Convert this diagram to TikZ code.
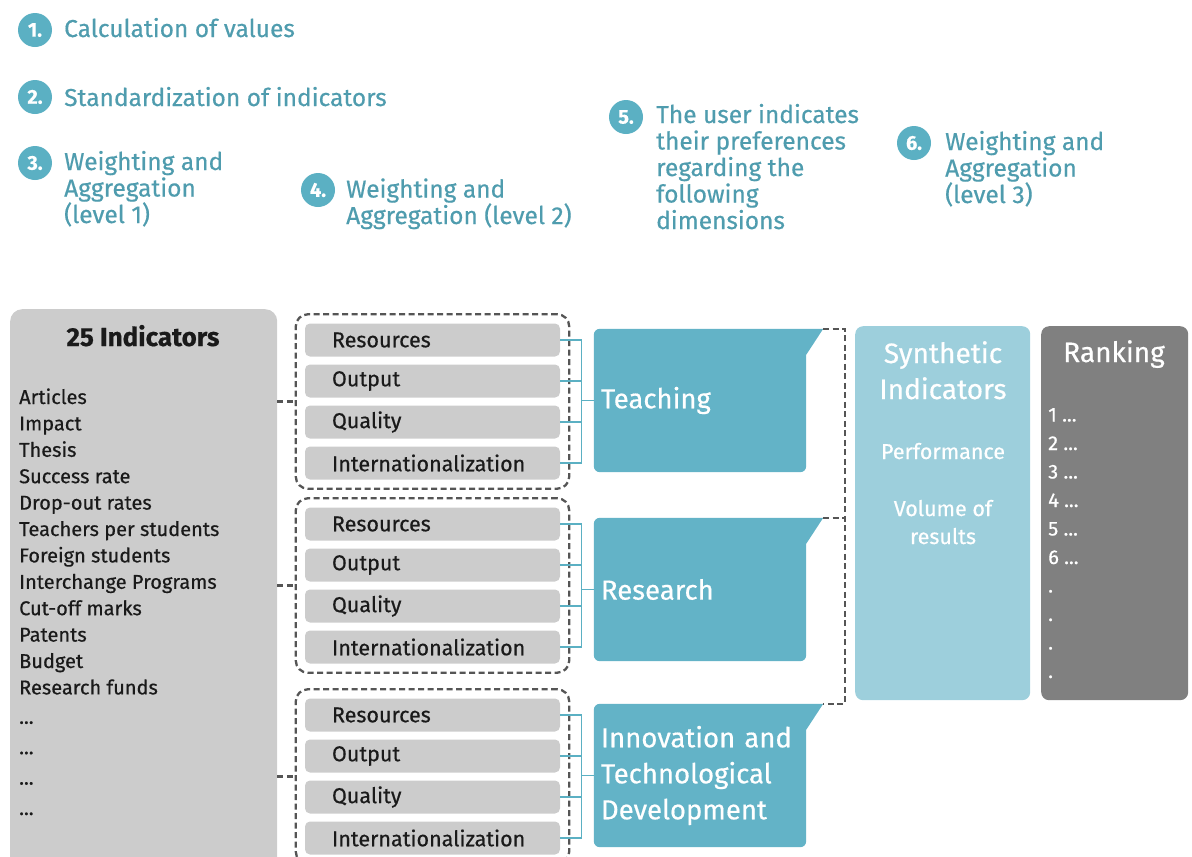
\documentclass[tikz,border=0pt]{standalone}
\usepackage{fontspec}
\setmainfont{Fira Sans}[FakeBold=0.5]
\usetikzlibrary{positioning,calc,fit,backgrounds}
\definecolor{Step}{HTML}{4F9CAE}
\definecolor{Dot}{HTML}{5BB0C3}
\definecolor{Dim}{HTML}{63B3C7}
\definecolor{Syn}{HTML}{9DCFDC}
\definecolor{Grey}{HTML}{CCCCCC}
\definecolor{Rank}{HTML}{808080}
\definecolor{Dash}{HTML}{555555}
\definecolor{Ink}{HTML}{1A1A1A}

\begin{document}
\begin{tikzpicture}[x=1pt,y=-1pt,
    num/.style={circle,fill=Dot,text=white,minimum size=34,inner sep=0,font=\fontsize{20}{20}\selectfont\bfseries},
    hd/.style={anchor=base west,align=left,inner sep=0,text=Step,font=\fontsize{24.5}{26.5}\selectfont},
    sub/.style={rounded corners=5pt,fill=Grey,minimum height=33,text width=201,inner xsep=27,inner ysep=0,align=left,text=Ink,font=\fontsize{21.5}{21.5}\selectfont},
    grp/.style={draw=Dash,dash pattern=on 6pt off 3.5pt,line width=2.3pt,rounded corners=12pt,inner sep=9},
    dim/.style={minimum height=143,text width=198,inner xsep=7,align=left,text=white,font=\fontsize{27.5}{36}\selectfont},
    col/.style={rounded corners=8pt,minimum width=#1,minimum height=374,anchor=north west,inner sep=0},
    wt/.style={text=white,align=center,inner sep=0},
    lnk/.style={draw=Dot,line width=1.4pt},
    dsh/.style={draw=Dash,dash pattern=on 6pt off 3.5pt,line width=2.3pt}]
    \useasboundingbox (0,0) rectangle (1192,857);
    \node[num] (s1) at (35,30) {1.};
    \node[hd] (h1) at (64,37) {Calculation of values};
    \node[num] (s2) at (35,97) {2.};
    \node[hd] (h2) at (64,106) {Standardization of indicators};
    \node[num] (s3) at (35,163) {3.};
    \node[hd] (h3) at (64,223) {Weighting and\\Aggregation\\(level 1)};
    \node[num] (s4) at (318,190) {4.};
    \node[hd] (h4) at (346,224) {Weighting and\\Aggregation (level 2)};
    \node[num] (s5) at (626,117) {5.};
    \node[hd] (h5) at (656,229) {The user indicates\\their preferences\\regarding the\\following\\dimensions};
    \node[num] (s6) at (914,143) {6.};
    \node[hd] (h6) at (945,203) {Weighting and\\Aggregation\\(level 3)};

    \node[fill=Grey,rounded corners=12pt,minimum width=267,minimum height=570,anchor=north west,inner sep=0] (ind) at (10,309) {};
    \node[anchor=base,inner sep=0,text=Ink,font=\fontsize{26}{26}\selectfont\bfseries] (indt) at (143,346) {25 Indicators};
    \node[anchor=base west,align=left,inner sep=0,text=Ink,font=\fontsize{20}{26.4}\selectfont] (indl) at (19,815) {Articles\\Impact\\Thesis\\Success rate\\Drop-out rates\\Teachers per students\\Foreign students\\Interchange Programs\\Cut-off marks\\Patents\\Budget\\Research funds\\[3pt]...\\[4pt]...\\[4pt]...\\[4pt]...};

    \foreach \g/\y in {t/340,r/524,i/715}{
      \foreach \s [count=\k] in {Resources,Output,Quality,Internationalization}
        \node[sub] (\g\k) at (432.5,{\y+41*(\k-1)}) {\s};
    }
    \node[grp,fit=(t1)(t4)] (tg) {};
    \node[grp,fit=(r1)(r4)] (rg) {};
    \node[grp,fit=(i1)(i4)] (ig) {};

    \node[dim] (teach) at (700,400.5) {Teaching};
    \node[dim] (res) at (700,589.5) {Research};
    \node[dim] (inno) at (700,775.5) {Innovation and\\Technological\\Development};
    \begin{scope}[on background layer]
      \foreach \d in {teach,res,inno}
        \fill[Dim,rounded corners=6pt] (\d.south west) -- (\d.north west) [sharp corners] -- ($(\d.north east)+(17,0)$) coordinate (\d-tip) -- ($(\d.north east)+(0,26)$) [rounded corners=6pt] -- (\d.south east) -- cycle;
    \end{scope}

    \foreach \g/\d in {t/teach,r/res,i/inno}{
      \draw[lnk] (\g1.east) -- ++(21,0) coordinate (\g-v) -- (\g-v |- \g4.east) -- (\g4.east);
      \draw[lnk] (\g2.east) -- (\g2.east -| \g-v);
      \draw[lnk] (\g3.east) -- (\g3.east -| \g-v);
      \draw[lnk] (\g-v |- \d.west) -- (\d.west);
      \draw[dsh] (ind.east |- \g g.west) -- (\g g.west);
    }
    \draw[dsh] (teach-tip) -- ++(22,0) coordinate (bk) |- (inno-tip);
    \draw[dsh] (res-tip) -- (res-tip -| bk);

    \node[col=175,fill=Syn] (syn) at (855,326) {};
    \node[wt,anchor=base,font=\fontsize{28}{36}\selectfont] (synt) at (943,399) {Synthetic\\Indicators};
    \node[wt,anchor=base,font=\fontsize{21.5}{28}\selectfont] (perf) at (943,459) {Performance};
    \node[wt,anchor=base,font=\fontsize{21.5}{28}\selectfont] (vol) at (943,544) {Volume of\\results};

    \node[col=147,fill=Rank] (rank) at (1041,326) {};
    \node[wt,anchor=base,font=\fontsize{28}{28}\selectfont] (rankt) at (1114,362) {Ranking};
    \node[wt,anchor=base west,align=left,font=\fontsize{20}{28.5}\selectfont] (rankl) at (1048,678) {1 ...\\2 ...\\3 ...\\4 ...\\5 ...\\6 ...\\.\\.\\.\\.};
  \end{tikzpicture}
\end{document}
